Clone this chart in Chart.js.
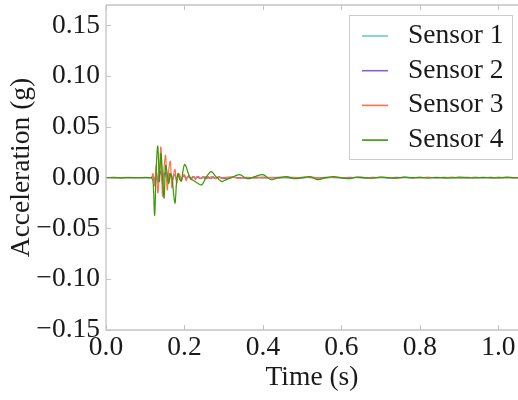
<!DOCTYPE html>
<html>
<head>
<meta charset="utf-8">
<script src="https://cdn.jsdelivr.net/npm/chart.js@4"></script>
<style>
  html, body { margin: 0; padding: 0; background: #ffffff; }
  #wrap { width: 518px; height: 400px; position: relative; }
</style>
</head>
<body>
<div id="wrap"><canvas id="accChart"></canvas></div>
<script>
  // time stamps (s)
  const time = [
    0, 0.02, 0.04, 0.06, 0.08, 0.10, 0.112,
    0.116, 0.120, 0.124, 0.128, 0.132, 0.136, 0.140, 0.144, 0.148, 0.152,
    0.156, 0.160, 0.164, 0.168, 0.172, 0.176, 0.180, 0.184, 0.188, 0.192,
    0.196, 0.200, 0.204, 0.208, 0.212, 0.216, 0.220, 0.224, 0.228, 0.232,
    0.236, 0.240, 0.244, 0.248, 0.252, 0.256, 0.260, 0.264, 0.268, 0.272,
    0.276, 0.280, 0.284, 0.288, 0.292, 0.296, 0.300,
    0.32, 0.34, 0.36, 0.38, 0.40, 0.42, 0.44, 0.46, 0.48, 0.50,
    0.52, 0.54, 0.56, 0.58, 0.60, 0.62, 0.64, 0.66, 0.68, 0.70,
    0.72, 0.74, 0.76, 0.78, 0.80, 0.82, 0.84, 0.86, 0.88, 0.90,
    0.92, 0.94, 0.96, 0.98, 1.00, 1.02, 1.04, 1.05
  ];

  const sensor1 = [
    0, 0.0001, -0.0001, 0.0001, 0, -0.0001, 0,
    0, 0.001, -0.003, 0.004, -0.004, 0.002, 0.005, -0.004, 0.002, 0.004,
    -0.003, 0.001, 0.003, -0.002, 0.001, 0.002, -0.002, 0.001, 0.001, -0.001,
    0.001, 0.001, -0.001, 0.000, 0.001, -0.001, 0.000, 0.001, -0.001, 0.000,
    0.001, 0.000, -0.001, 0.000, 0.001, 0.000, -0.001, 0.000, 0.001, 0.000,
    -0.001, 0.000, 0.000, 0.001, 0.000, -0.001, 0.000,
    0.0005, -0.0005, 0.0003, 0, -0.0004, 0.0004, 0, -0.0003, 0.0003, 0,
    0.0004, -0.0003, 0, 0.0003, -0.0003, 0, 0.0002, -0.0002, 0, 0.0003,
    -0.0002, 0, 0.0002, -0.0002, 0, 0.0002, 0, -0.0002, 0.0002, 0,
    -0.0002, 0.0002, 0, -0.0002, 0.0002, 0, -0.0001, 0
  ];

  const sensor2 = [
    0, -0.0001, 0.0001, 0, 0.0001, 0, 0,
    0, 0.002, -0.004, 0.006, -0.005, 0.004, 0.006, -0.006, 0.003, 0.005,
    -0.004, 0.002, 0.004, -0.003, 0.001, 0.003, -0.002, 0.002, 0.001, -0.002,
    0.001, 0.002, -0.001, 0.001, 0.001, -0.001, 0.000, 0.001, -0.001, 0.001,
    0.000, -0.001, 0.000, 0.001, 0.000, -0.001, 0.001, 0.000, -0.001, 0.001,
    0.000, -0.001, 0.000, 0.001, 0.000, 0.000, -0.001,
    0.0004, 0, -0.0004, 0.0004, 0, -0.0003, 0.0003, 0, -0.0004, 0.0003,
    0, -0.0003, 0.0003, 0, -0.0002, 0.0003, 0, -0.0002, 0.0002, 0,
    -0.0002, 0.0002, 0, -0.0002, 0.0002, 0, -0.0002, 0.0002, 0, -0.0002,
    0.0002, 0, -0.0002, 0.0002, 0, -0.0001, 0.0001, 0
  ];

  const sensor3 = [
    0, -0.0002, 0.0001, 0.0002, -0.0001, 0.0001, 0,
    0.000, 0.004, -0.008, 0.012, -0.015, 0.006, 0.030, -0.018, 0.010, 0.022,
    -0.012, 0.008, 0.016, -0.010, 0.002, 0.008, -0.006, 0.004, 0.003, -0.004,
    0.002, 0.003, -0.003, 0.001, 0.002, -0.002, 0.001, 0.001, -0.002, 0.001,
    0.001, -0.001, 0.000, 0.001, -0.001, 0.000, 0.001, -0.001, 0.000, 0.001,
    0.000, -0.001, 0.000, 0.001, 0.000, -0.001, 0.000,
    0.0006, -0.0005, 0.0004, -0.0006, 0.0005, 0, -0.0005, 0.0004, 0, -0.0004,
    0.0005, 0, -0.0004, 0.0004, 0, -0.0003, 0.0004, 0, -0.0003, 0.0003,
    0, -0.0004, 0.0003, 0, -0.0003, 0.0003, 0, -0.0003, 0.0002, 0,
    -0.0003, 0.0003, 0, -0.0002, 0.0002, 0, -0.0002, 0.0001
  ];

  const sensor4 = [
    0, 0.0002, -0.0002, 0.0001, -0.0001, 0.0002, 0,
    0.000, -0.004, -0.037, 0.010, 0.031, -0.004, 0.024, 0.002, -0.020, 0.012,
    0.004, -0.006, 0.004, 0.001, -0.015, -0.025, -0.004, 0.004, -0.002, -0.003,
    0.006, 0.013, 0.011, 0.006, 0.002, -0.001, -0.002, -0.003, -0.004, -0.005,
    -0.006, -0.007, -0.007, -0.005, -0.002, 0.001, 0.003, 0.005, 0.006, 0.005,
    0.003, 0.001, 0.000, -0.002, -0.003, -0.004, -0.003,
    0.000, 0.003, -0.001, 0.001, 0.003, -0.002, 0.000, 0.001, -0.001, 0.000,
    0.001, -0.002, 0.000, 0.001, 0.000, -0.001, 0.0005, 0.000, -0.0005, 0.0005,
    0.000, -0.0005, 0.0005, 0.000, 0.0003, -0.0005, 0.0003, 0.000, -0.0003, 0.0005,
    0.000, -0.0003, 0.0003, 0.000, -0.0003, 0.0005, 0.000, -0.0002
  ];

  const seriesNames = ['Sensor 1', 'Sensor 2', 'Sensor 3', 'Sensor 4'];
  const seriesColors = ['#66cccc', '#8c5fcc', '#ff7148', '#359a05'];
  const seriesValues = [sensor1, sensor2, sensor3, sensor4];

  const yTicks = [-0.15, -0.10, -0.05, 0.00, 0.05, 0.10, 0.15];
  const xTicks = [0.0, 0.2, 0.4, 0.6, 0.8, 1.0];

  const serif = "'Liberation Serif', 'Times New Roman', serif";
  const fontPx = 27.5;
  const spineColor = '#c4c4c4';

  function fmt(v, digits) {
    const s = Math.abs(v).toFixed(digits);
    return v < -1e-9 ? '\u2212' + s : s;
  }

  // spines, inward ticks, and the boxed legend inside the plot
  const framePlugin = {
    id: 'frame',
    afterDraw(chart) {
      const { ctx, chartArea: a, scales } = chart;
      const x = scales.x, y = scales.y;
      ctx.save();
      ctx.strokeStyle = spineColor;
      ctx.lineWidth = 1.3;
      ctx.beginPath();
      ctx.moveTo(a.left, a.top);
      ctx.lineTo(a.right, a.top);
      ctx.moveTo(a.left, a.top);
      ctx.lineTo(a.left, a.bottom);
      ctx.lineTo(a.right, a.bottom);
      ctx.stroke();

      ctx.lineWidth = 1;
      ctx.beginPath();
      xTicks.forEach(v => {
        const px = Math.round(x.getPixelForValue(v)) + 0.5;
        ctx.moveTo(px, a.bottom);
        ctx.lineTo(px, a.bottom - 5);
        ctx.moveTo(px, a.top);
        ctx.lineTo(px, a.top + 5);
      });
      yTicks.forEach(v => {
        const py = Math.round(y.getPixelForValue(v)) + 0.5;
        ctx.moveTo(a.left, py);
        ctx.lineTo(a.left + 5, py);
      });
      ctx.stroke();

      // legend
      const bx = 349.5, by = 15.5, bw = 163, bh = 144;
      ctx.fillStyle = 'rgba(255,255,255,0.85)';
      ctx.fillRect(bx, by, bw, bh);
      ctx.strokeStyle = '#cccccc';
      ctx.lineWidth = 1;
      ctx.strokeRect(bx, by, bw, bh);
      ctx.font = fontPx + 'px ' + serif;
      ctx.textBaseline = 'alphabetic';
      ctx.textAlign = 'left';
      chart.data.datasets.forEach((ds, i) => {
        const ly = 36 + i * 34.7;
        ctx.strokeStyle = ds.borderColor;
        ctx.lineWidth = 1.6;
        ctx.beginPath();
        ctx.moveTo(362, ly);
        ctx.lineTo(388, ly);
        ctx.stroke();
        ctx.fillStyle = '#1a1a1a';
        ctx.fillText(ds.label, 408, ly + 7);
      });
      ctx.restore();
    }
  };

  new Chart(document.getElementById('accChart'), {
    type: 'line',
    data: {
      datasets: seriesNames.map((name, i) => ({
        label: name,
        data: time.map((t, j) => ({ x: t, y: seriesValues[i][j] })),
        borderColor: seriesColors[i],
        borderWidth: 1.2,
        pointRadius: 0,
        tension: 0.35,
        fill: false,
        order: 4 - i
      }))
    },
    options: {
      responsive: true,
      maintainAspectRatio: false,
      animation: false,
      layout: { padding: { top: 5, right: 0, left: 0, bottom: 0 } },
      plugins: {
        legend: { display: false },
        tooltip: { enabled: false }
      },
      scales: {
        x: {
          type: 'linear',
          min: 0,
          max: 1.05,
          afterFit: s => { s.height = 70; s.paddingLeft = 0; s.paddingRight = 0; },
          grid: { display: false, drawTicks: false },
          border: { display: false },
          afterBuildTicks: s => { s.ticks = xTicks.map(v => ({ value: v })); },
          ticks: {
            autoSkip: false,
            maxRotation: 0,
            padding: 1,
            color: '#1a1a1a',
            font: { family: serif, size: fontPx },
            callback: v => fmt(v, 1)
          },
          title: {
            display: true,
            text: 'Time (s)',
            color: '#1a1a1a',
            font: { family: serif, size: fontPx },
            padding: { top: 0, bottom: 6 }
          }
        },
        y: {
          min: -0.15,
          max: 0.17,
          afterFit: s => { s.width = 106; s.paddingTop = 0; s.paddingBottom = 0; },
          grid: { display: false, drawTicks: false },
          border: { display: false },
          afterBuildTicks: s => { s.ticks = yTicks.map(v => ({ value: v })); },
          ticks: {
            autoSkip: false,
            padding: 6,
            color: '#1a1a1a',
            font: { family: serif, size: fontPx },
            callback: v => fmt(v, 2)
          },
          title: {
            display: true,
            text: 'Acceleration (g)',
            color: '#1a1a1a',
            font: { family: serif, size: fontPx },
            padding: { top: 5, bottom: 0 }
          }
        }
      }
    },
    plugins: [framePlugin]
  });
</script>
</body>
</html>
